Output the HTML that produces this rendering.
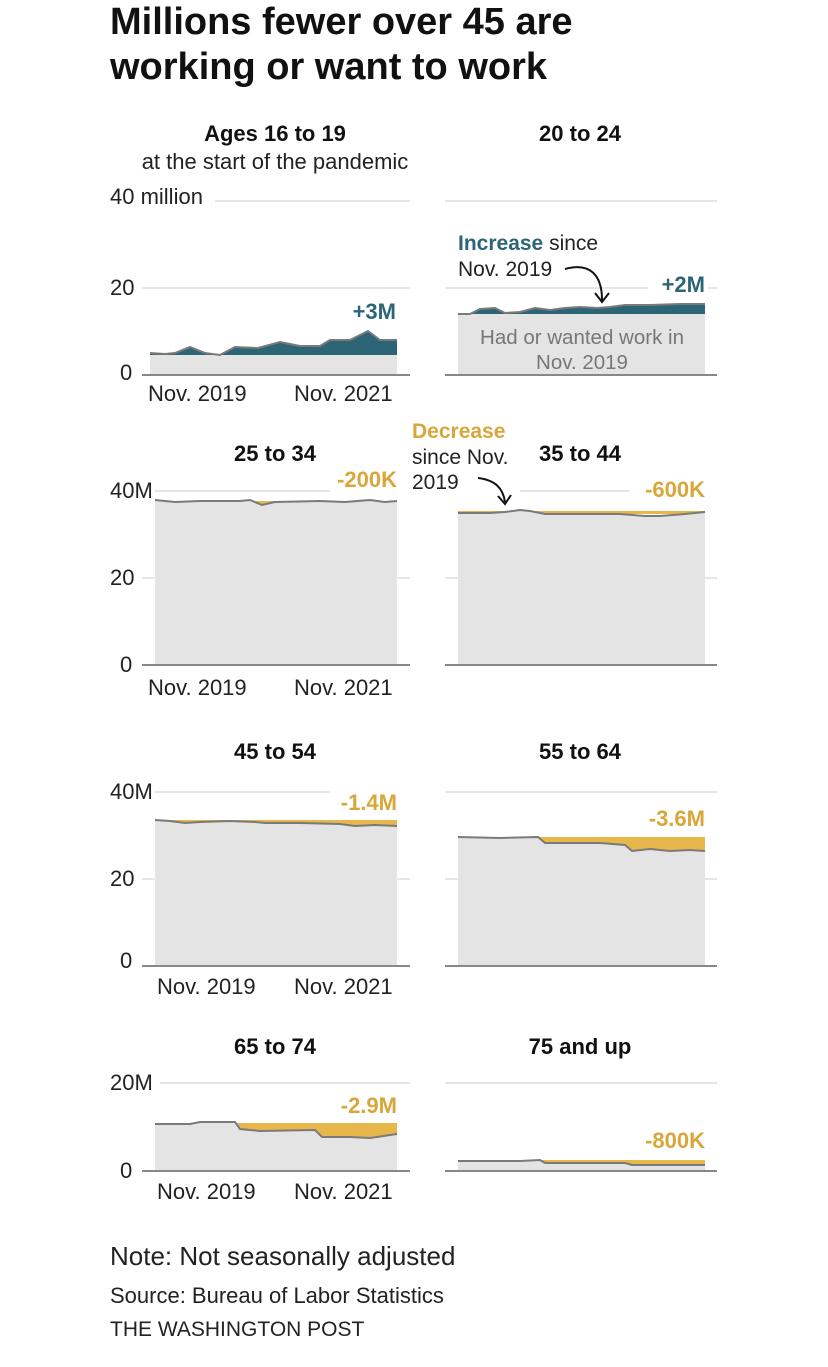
<!DOCTYPE html>
<html><head><meta charset="utf-8"><style>
body{margin:0;background:#fff;}
svg{display:block;font-family:"Liberation Sans",Arial,sans-serif;}
.t{font-size:22px;font-weight:bold;fill:#111;text-anchor:middle}
.ax{font-size:22px;fill:#222}
.g{stroke:#ccc;stroke-width:1}
.b{stroke:#888;stroke-width:2}
.ln{fill:none;stroke:#7a7a7a;stroke-width:2}
.gray{fill:#e4e4e4}
.teal{fill:#2c6676}
.gold{fill:#e8b74c}
.lg{font-size:22px;font-weight:bold;fill:#d9a63a;text-anchor:end}
.lt{font-size:22px;font-weight:bold;fill:#2c6676;text-anchor:end}
</style></head><body>
<svg width="828" height="1367" viewBox="0 0 828 1367">
<text x="110" y="34" font-size="38" font-weight="bold" fill="#111">Millions fewer over 45 are</text>
<text x="110" y="79" font-size="38" font-weight="bold" fill="#111">working or want to work</text>

<!-- Panel 1 -->
<text class="t" x="275" y="141">Ages 16 to 19</text>
<text x="275" y="169" font-size="22" fill="#222" text-anchor="middle">at the start of the pandemic</text>
<line class="g" x1="215" y1="201" x2="410" y2="201"/>
<text class="ax" x="110" y="204">40 million</text>
<line class="g" x1="142" y1="288" x2="410" y2="288"/>
<text class="ax" x="110" y="295">20</text>
<path class="teal" d="M150,353 L165,354 L175,353 L190,347 L205,353 L220,355 L235,347 L258,348 L280,342 L300,346 L320,346 L330,340 L350,340 L368,331 L380,340 L397,340 L397,355 L150,355Z"/>
<rect class="gray" x="150" y="355" width="247" height="20"/>
<polyline class="ln" points="150,353 165,354 175,353 190,347 205,353 220,355 235,347 258,348 280,342 300,346 320,346 330,340 350,340 368,331 380,340 397,340"/>
<line class="b" x1="142" y1="375" x2="410" y2="375"/>
<text class="ax" x="120" y="380">0</text>
<text class="lt" x="396" y="319">+3M</text>
<text class="ax" x="148" y="401">Nov. 2019</text>
<text class="ax" x="294" y="401">Nov. 2021</text>

<!-- Panel 2 -->
<text class="t" x="580" y="141">20 to 24</text>
<line class="g" x1="445" y1="201" x2="717" y2="201"/>
<line class="g" x1="445" y1="288" x2="717" y2="288"/>
<path class="teal" d="M458,314 L470,314 L480,309 L495,308 L505,313 L520,312 L535,308 L550,310 L565,308 L580,307 L598,308 L610,307 L625,305 L650,305 L680,304 L705,304 L705,314 L458,314Z"/>
<rect class="gray" x="458" y="314" width="247" height="61"/>
<polyline class="ln" points="458,314 470,314 480,309 495,308 505,313 520,312 535,308 550,310 565,308 580,307 598,308 610,307 625,305 650,305 680,304 705,304"/>
<line class="b" x1="445" y1="375" x2="717" y2="375"/>
<rect x="648" y="272" width="60" height="26" fill="#fff"/>
<text class="lt" x="705" y="292">+2M</text>
<text x="582" y="344" font-size="20.5" fill="#777" text-anchor="middle">Had or wanted work in</text>
<text x="582" y="369" font-size="20.5" fill="#777" text-anchor="middle">Nov. 2019</text>
<text x="458" y="250" font-size="21" fill="#222"><tspan font-weight="bold" fill="#2c6676">Increase</tspan> since</text>
<text x="458" y="276" font-size="21" fill="#222">Nov. 2019</text>
<path d="M565,269 C590,262 602,275 602,300" fill="none" stroke="#111" stroke-width="2"/>
<path d="M595,293 L602,302 L609,293" fill="none" stroke="#111" stroke-width="2"/>

<!-- Row 2 -->
<text class="t" x="275" y="461">25 to 34</text>
<line class="g" x1="155" y1="491" x2="330" y2="491"/>
<text class="ax" x="110" y="498">40M</text>
<line class="g" x1="142" y1="578" x2="410" y2="578"/>
<text class="ax" x="110" y="585">20</text>
<path class="gold" d="M255,501 L262,505 L270,502 L300,501 L255,501Z"/>
<path class="gray" d="M155,500 L165,501 L175,502 L200,501 L240,501 L250,500 L262,505 L275,502 L320,501 L345,502 L370,500 L385,502 L397,501 L397,665 L155,665Z"/>
<polyline class="ln" points="155,500 165,501 175,502 200,501 240,501 250,500 262,505 275,502 320,501 345,502 370,500 385,502 397,501"/>
<line class="b" x1="142" y1="665" x2="410" y2="665"/>
<text class="ax" x="120" y="672">0</text>
<text class="lg" x="397" y="487">-200K</text>
<text class="ax" x="148" y="695">Nov. 2019</text>
<text class="ax" x="294" y="695">Nov. 2021</text>

<text class="t" x="580" y="461">35 to 44</text>
<line class="g" x1="520" y1="491" x2="630" y2="491"/>
<line class="g" x1="445" y1="578" x2="717" y2="578"/>
<path class="gold" d="M458,511 L705,511 L705,514 L458,514Z"/>
<path class="gray" d="M458,513 L490,513 L505,512 L520,510 L530,511 L545,514 L570,514 L600,514 L620,514 L645,516 L660,516 L685,514 L705,512 L705,665 L458,665Z"/>
<polyline class="ln" points="458,513 490,513 505,512 520,510 530,511 545,514 570,514 600,514 620,514 645,516 660,516 685,514 705,512"/>
<line class="b" x1="445" y1="665" x2="717" y2="665"/>
<text class="lg" x="705" y="497">-600K</text>
<text x="412" y="438" font-size="21" font-weight="bold" fill="#d9a63a">Decrease</text>
<text x="412" y="464" font-size="21" fill="#222">since Nov.</text>
<text x="412" y="489" font-size="21" fill="#222">2019</text>
<path d="M478,478 C495,480 503,488 505,502" fill="none" stroke="#111" stroke-width="2"/>
<path d="M498,496 L505,504 L511,495" fill="none" stroke="#111" stroke-width="2"/>

<!-- Row 3 -->
<text class="t" x="275" y="759">45 to 54</text>
<line class="g" x1="155" y1="792" x2="330" y2="792"/>
<text class="ax" x="110" y="799">40M</text>
<line class="g" x1="142" y1="879" x2="410" y2="879"/>
<text class="ax" x="110" y="886">20</text>
<path class="gold" d="M155,820 L397,820 L397,826 L155,826Z"/>
<path class="gray" d="M155,820 L170,821 L185,823 L200,822 L230,821 L255,822 L265,823 L300,823 L340,824 L355,826 L375,825 L397,826 L397,966 L155,966Z"/>
<polyline class="ln" points="155,820 170,821 185,823 200,822 230,821 255,822 265,823 300,823 340,824 355,826 375,825 397,826"/>
<line class="b" x1="142" y1="966" x2="410" y2="966"/>
<text class="ax" x="120" y="968">0</text>
<text class="lg" x="397" y="810">-1.4M</text>
<text class="ax" x="157" y="994">Nov. 2019</text>
<text class="ax" x="294" y="994">Nov. 2021</text>

<text class="t" x="580" y="759">55 to 64</text>
<line class="g" x1="445" y1="792" x2="717" y2="792"/>
<line class="g" x1="445" y1="879" x2="717" y2="879"/>
<path class="gold" d="M458,837 L705,837 L705,851 L458,851Z"/>
<path class="gray" d="M458,837 L500,838 L538,837 L545,843 L570,843 L600,843 L625,845 L632,851 L650,849 L670,851 L690,850 L705,851 L705,966 L458,966Z"/>
<polyline class="ln" points="458,837 500,838 538,837 545,843 570,843 600,843 625,845 632,851 650,849 670,851 690,850 705,851"/>
<line class="b" x1="445" y1="966" x2="717" y2="966"/>
<rect x="632" y="805" width="76" height="26" fill="#fff"/>
<text class="lg" x="705" y="826">-3.6M</text>

<!-- Row 4 -->
<text class="t" x="275" y="1054">65 to 74</text>
<line class="g" x1="160" y1="1083" x2="410" y2="1083"/>
<text class="ax" x="110" y="1090">20M</text>
<path class="gold" d="M155,1123 L397,1123 L397,1138 L155,1138Z"/>
<path class="gray" d="M155,1124 L190,1124 L200,1122 L235,1122 L240,1129 L260,1131 L315,1130 L322,1137 L350,1137 L370,1138 L397,1134 L397,1171 L155,1171Z"/>
<polyline class="ln" points="155,1124 190,1124 200,1122 235,1122 240,1129 260,1131 315,1130 322,1137 350,1137 370,1138 397,1134"/>
<line class="b" x1="142" y1="1171" x2="410" y2="1171"/>
<text class="ax" x="120" y="1178">0</text>
<text class="lg" x="397" y="1113">-2.9M</text>
<text class="ax" x="157" y="1199">Nov. 2019</text>
<text class="ax" x="294" y="1199">Nov. 2021</text>

<text class="t" x="580" y="1054">75 and up</text>
<line class="g" x1="445" y1="1083" x2="717" y2="1083"/>
<path class="gold" d="M458,1160 L705,1160 L705,1166 L458,1166Z"/>
<path class="gray" d="M458,1161 L520,1161 L540,1160 L545,1163 L600,1163 L625,1163 L632,1165 L660,1165 L705,1165 L705,1171 L458,1171Z"/>
<polyline class="ln" points="458,1161 520,1161 540,1160 545,1163 600,1163 625,1163 632,1165 660,1165 705,1165"/>
<line class="b" x1="445" y1="1171" x2="717" y2="1171"/>
<text class="lg" x="705" y="1148">-800K</text>

<text x="110" y="1265" font-size="26" fill="#222">Note: Not seasonally adjusted</text>
<text x="110" y="1303" font-size="22" fill="#222">Source: Bureau of Labor Statistics</text>
<text x="110" y="1336" font-size="21" fill="#222">THE WASHINGTON POST</text>
</svg>
</body></html>
